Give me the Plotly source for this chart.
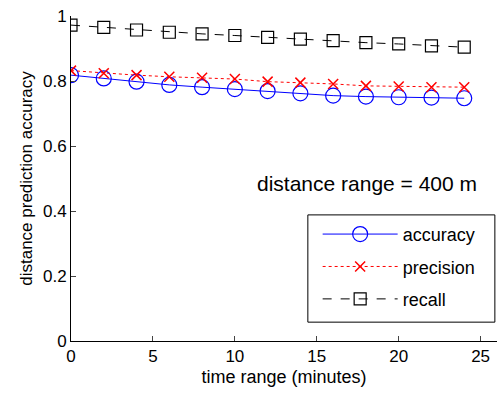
import plotly.graph_objects as go

time_min = [0, 2, 4, 6, 8, 10, 12, 14, 16, 18, 20, 22, 24]
accuracy = [0.818, 0.808, 0.798, 0.788, 0.781, 0.775, 0.769, 0.762, 0.755, 0.752, 0.750, 0.749, 0.747]
precision = [0.832, 0.824, 0.818, 0.813, 0.810, 0.806, 0.798, 0.795, 0.791, 0.785, 0.783, 0.781, 0.781]
recall = [0.972, 0.965, 0.957, 0.950, 0.945, 0.940, 0.934, 0.929, 0.924, 0.918, 0.914, 0.908, 0.904]

FONT = "Liberation Sans, Arial, Helvetica, sans-serif"

fig = go.Figure()
fig.add_trace(go.Scatter(
    x=time_min, y=accuracy, name="accuracy", mode="lines+markers", legendgroup="a",
    line=dict(color="#0000ff", width=1),
    marker=dict(symbol="circle-open", size=15, color="#0000ff", line=dict(width=1.2)),
))
fig.add_trace(go.Scatter(
    x=time_min, y=precision, name="precision", mode="lines+markers", legendgroup="p",
    line=dict(color="#ff0000", width=1, dash="dot"),
    marker=dict(symbol="x-thin-open", size=10, color="#ff0000", line=dict(width=1.5, color="#ff0000")),
))
fig.add_trace(go.Scatter(
    x=time_min, y=recall, name="recall", mode="lines+markers", legendgroup="r",
    line=dict(color="#000000", width=1, dash="dash"),
    marker=dict(symbol="square-open", size=12, color="#000000", line=dict(width=1.2)),
))

fig.update_layout(
    width=500, height=395,
    margin=dict(l=71, r=3, t=16, b=54, autoexpand=False),
    paper_bgcolor="white", plot_bgcolor="white",
    font=dict(family=FONT, size=16, color="black"),
    showlegend=True,
    legend=dict(
        x=0.579, y=0.385, xanchor="left", yanchor="top",
        bgcolor="rgba(0,0,0,0)", borderwidth=0,
        font=dict(size=18), itemwidth=75, traceorder="grouped", tracegroupgap=6,
    ),
    shapes=[dict(
        type="rect", xref="paper", yref="paper", x0=0.556, x1=0.995, y0=0.058, y1=0.388,
        line=dict(color="black", width=1), fillcolor="white", layer="above",
    )],
    annotations=[dict(
        text="distance range = 400 m", x=0.695, y=0.486, xref="paper", yref="paper",
        showarrow=False, font=dict(size=21), xanchor="center", yanchor="middle",
    )],
)
fig.update_xaxes(
    range=[0, 26], tickvals=[0, 5, 10, 15, 20, 25], ticks="inside", ticklen=5,
    showline=True, linecolor="black", linewidth=1, showgrid=False, zeroline=False,
    title=dict(text="time range (minutes)", font=dict(size=18), standoff=4),
    tickfont=dict(size=17), automargin=False,
)
fig.update_yaxes(
    range=[0, 1], tickvals=[0, 0.2, 0.4, 0.6, 0.8, 1.0],
    ticktext=["0", "0.2", "0.4", "0.6", "0.8", "1"],
    ticks="inside", ticklen=5,
    showline=True, linecolor="black", linewidth=1, showgrid=False, zeroline=False,
    title=dict(text="distance prediction accuracy", font=dict(size=17), standoff=6),
    tickfont=dict(size=17), automargin=False,
)

fig.write_html("out.html", config={"displayModeBar": False},
               post_script="document.body.style.margin='0';")
